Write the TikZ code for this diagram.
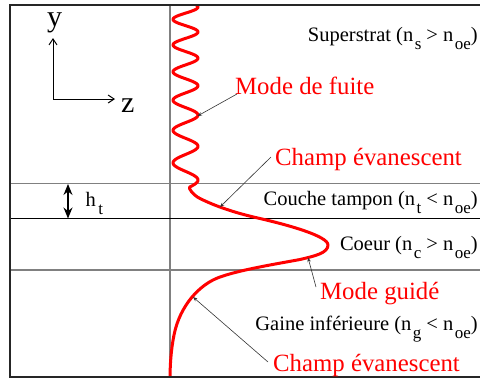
\documentclass[tikz,border=0pt]{standalone}
\usepackage{fontspec}
\setmainfont{Liberation Serif}
\usetikzlibrary{arrows.meta}
\newcommand\sbs[1]{\kern1.5pt\raisebox{-8.5pt}{\fontsize{17}{17}\selectfont #1}}
\begin{document}
\begin{tikzpicture}[x=1pt,y=-1pt,
 lbl/.style={inner sep=0pt, anchor=base east, font=\fontsize{20.5}{24}\selectfont},
 rlbl/.style={inner sep=0pt, anchor=base west, text=red, font=\fontsize{24.8}{30}\selectfont},
 axlbl/.style={inner sep=0pt, anchor=base west, font=\fontsize{30}{36}\selectfont},
 border/.style={draw=black!85, line width=1.5pt},
 grayline/.style={draw=black!50, line width=1.2pt},
 blackline/.style={draw=black, line width=1pt},
 field/.style={draw=red, line width=3pt, line join=round},
 pointer/.style={draw=black!80, line width=0.6pt, -{Stealth[length=4.5pt,width=3.5pt]}},
 axis/.style={draw=black, line width=1pt, -{Straight Barb[length=6pt,width=8pt]}},
 dblarrow/.style={draw=black, line width=1.2pt, {Stealth[length=11pt,width=9pt]}-{Stealth[length=11pt,width=9pt]}},
]
\useasboundingbox (0,0) rectangle (480,378);
% layer lines
\draw[grayline] (170,5) -- (170,377);
\draw[grayline] (10,183.5) -- (480,183.5);
\draw[blackline] (10,218) -- (480,218);
\draw[grayline] (10,270) -- (480,270);
% field profile
\begin{scope}
\clip (10,5.7) rectangle (480,376.3);
\draw[field] plot[domain=4:187, samples=220, variable=\t]
  ({185.5+12.5*cos(360*(-0.2884+0.04145*\t-0.362*(\t/100)*(\t/100)))}, \t)
  .. controls (188,188) and (193,195) .. (200,198.5)
  .. controls (215,206) and (235,213) .. (260,218.5)
  .. controls (288,225) and (328,236) .. (328,245)
  .. controls (328,253) and (315,256) .. (300,259.5)
  .. controls (270,265) and (240,270) .. (220,277)
  .. controls (200,284) and (180,305) .. (174,335)
  .. controls (171,350) and (170,365) .. (170,380);
\end{scope}
% border
\draw[border] (480,5) -- (10,5) -- (10,377) -- (480,377);
% axes
\coordinate (O) at (53,99);
\coordinate (ytip) at (53,38);
\coordinate (ztip) at (115,99);
\draw[axis] (O) -- (ytip);
\draw[axis] (O) -- (ztip);
\node[axlbl] (ylbl) at (47,26.5) {y};
\node[axlbl] (zlbl) at (121,112) {z};
% h_t
\coordinate (htop) at (68,184);
\coordinate (hbot) at (68,218.5);
\draw[dblarrow] (htop) -- (hbot);
\node[inner sep=0pt, anchor=base west, font=\fontsize{20.5}{24}\selectfont] (ht) at (85.5,206.5) {h\kern2.5pt\raisebox{-8pt}{\fontsize{17}{17}\selectfont t}};
% layer labels
\node[lbl] (sup) at (478,41) {Superstrat (n\sbs{s} > n\sbs{oe})};
\node[lbl] (tamp) at (478,205) {Couche tampon (n\sbs{t} < n\sbs{oe})};
\node[lbl] (coeur) at (478,250) {Coeur (n\sbs{c} > n\sbs{oe})};
\node[lbl] (gaine) at (478,330) {Gaine inférieure (n\sbs{g} < n\sbs{oe})};
% red labels
\node[rlbl] (fuite) at (235,94) {Mode de fuite};
\node[rlbl] (champA) at (275,165.5) {Champ évanescent};
\node[rlbl] (guide) at (320,299) {Mode guidé};
\node[rlbl] (champB) at (273,371.5) {Champ évanescent};
% pointers
\coordinate (pf) at (237,94);
\coordinate (tf) at (197.5,116);
\coordinate (pa) at (271,157);
\coordinate (ta) at (220,207);
\coordinate (pg) at (316,287);
\coordinate (tg) at (308,257.5);
\coordinate (pb) at (268,362);
\coordinate (tb) at (193,297);
\draw[pointer] (pf) -- (tf);
\draw[pointer] (pa) -- (ta);
\draw[pointer] (pg) -- (tg);
\draw[pointer] (pb) -- (tb);
\end{tikzpicture}
\end{document}
